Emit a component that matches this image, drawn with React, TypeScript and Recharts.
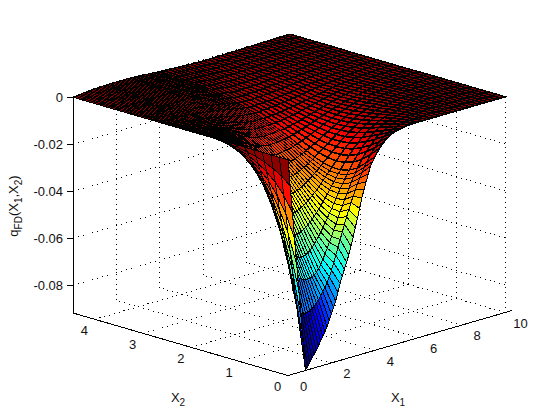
import React from "react"
import { ScatterChart, Scatter, XAxis, YAxis } from "recharts"

const x1Ticks = [0, 2, 4, 6, 8, 10]
const x2Ticks = [0, 1, 2, 3, 4]
const zTicks = [0, -0.02, -0.04, -0.06, -0.08]
const x1Max = 10
const x2Max = 4.45
const zMin = -0.0918
const colorMin = -0.0915
const colorMax = 0.0012

const x1Grid = [
  0, 0.1, 0.2, 0.3, 0.4, 0.5, 0.6, 0.7, 0.8, 0.9, 1, 1.1, 1.2, 1.3, 1.4, 1.5, 1.6, 1.7, 1.8, 1.9,
  2, 2.1, 2.2, 2.3, 2.4, 2.5, 2.6, 2.7, 2.8, 2.9, 3, 3.1, 3.2, 3.3, 3.4, 3.5, 3.6, 3.7, 3.8, 3.9, 4,
  4.2, 4.4, 4.6, 4.8, 5, 5.2, 5.4, 5.6, 5.8, 6, 6.2, 6.4, 6.6, 6.8, 7, 7.2, 7.4, 7.6, 7.8, 8,
  8.2, 8.4, 8.6, 8.8, 9, 9.2, 9.4, 9.6, 9.8, 10,
]
const x2Grid = [
  0, 0.178, 0.356, 0.534, 0.712, 0.89, 1.068, 1.246, 1.424, 1.602, 1.78, 1.958, 2.136, 2.314, 2.492,
  2.67, 2.848, 3.026, 3.204, 3.382, 3.56, 3.738, 3.916, 4.094, 4.272, 4.45,
]

// depth below zero in units of 1e-4, one row per x2Grid value, missing tail cells are flat
const depthRows = [
  [0,114,228,342,456,570,684,798,912,905,890,875,860,845,830,812,795,778,760,735,710,685,660,625,590,562,535,508,480,445,410,372,335,295,255,222,190,160,130,112,95,65,45,28,17,10,6,3,1],
  [0,83,167,250,334,417,500,584,660,680,690,695,695,693,690,684,676,665,655,640,625,610,592,570,545,516,486,455,425,395,365,336,308,281,256,232,209,187,167,148,131,101,77,57,41,30,21,14,10,7,4,3,2,1],
  [0,61,122,183,244,304,365,426,487,510,528,542,552,560,566,570,573,574,573,570,565,556,544,528,509,489,467,445,422,398,375,351,328,305,282,260,239,218,199,181,164,132,105,82,63,47,36,26,18,13,9,6,4,3,2,1],
  [0,44,88,131,175,219,263,306,350,380,408,433,452,466,476,482,488,492,494,494,490,485,476,466,454,441,427,411,395,378,360,343,325,306,288,269,251,233,217,200,184,154,127,103,83,65,51,39,29,22,16,12,8,6,4,3,2,1],
  [0,31,63,94,126,157,188,220,251,275,298,320,342,361,378,392,402,410,413,414,412,410,406,400,394,386,377,368,357,345,333,320,306,293,279,264,250,235,221,207,193,166,142,119,99,81,65,52,41,31,24,18,14,10,7,5,4,3,2,1],
  [0,22,44,66,88,109,131,153,175,194,212,230,248,266,282,297,309,320,329,335,338,339,338,336,334,330,325,319,313,305,297,289,279,270,259,249,238,227,215,204,193,171,149,129,110,92,77,63,51,41,33,25,20,15,11,9,6,5,3,2,2,1],
  [0,15,31,46,62,77,93,108,124,138,152,167,181,195,209,223,235,246,256,264,271,276,278,279,278,277,275,272,269,264,259,254,248,241,234,226,218,210,202,193,184,166,148,131,114,99,84,71,59,49,40,32,26,20,16,12,9,7,5,4,3,2,1],
  [0,11,22,32,43,54,65,75,86,96,107,117,129,140,152,163,174,184,194,203,210,217,222,226,228,229,229,228,226,224,222,218,215,211,206,201,196,190,184,177,171,157,143,129,115,101,88,76,65,55,46,38,31,25,20,16,13,10,8,6,4,3,2,1],
  [0,8,15,23,30,38,45,53,60,67,75,83,92,101,110,119,128,136,145,153,161,167,173,178,182,185,187,188,188,187,186,185,183,180,177,174,171,167,163,159,153,143,133,122,110,99,88,78,68,59,50,42,36,30,24,20,16,13,10,8,6,5,4,3,2,1],
  [0,5,11,16,21,26,32,37,42,47,53,58,65,71,79,86,93,100,107,114,120,126,132,137,142,146,149,151,153,154,154,154,153,152,150,148,146,144,141,138,135,128,120,111,103,94,85,76,68,59,52,45,38,33,27,23,19,15,13,10,8,6,5,4,3,2,1],
  [0,4,7,11,15,18,22,25,29,33,37,41,46,50,55,60,66,72,77,83,89,94,99,104,109,113,117,120,122,124,125,126,126,126,125,125,124,122,120,119,116,112,106,100,94,87,80,73,66,59,52,46,41,35,30,26,22,18,15,12,10,8,6,5,4,3,2,2,1],
  [0,3,5,8,10,13,15,18,20,23,26,29,32,36,40,44,48,52,56,61,65,70,74,78,82,86,90,93,96,98,100,102,103,104,104,104,103,103,102,101,100,97,93,89,84,79,73,68,62,56,51,46,40,36,31,27,23,20,17,14,12,10,8,6,5,4,3,3,2,2,1],
  [0,2,4,5,7,9,11,12,14,16,18,20,23,25,28,31,34,37,41,44,47,51,54,58,62,65,68,71,74,76,78,80,82,83,84,85,85,85,84,84,83,82,79,76,73,70,66,62,57,53,48,44,39,35,31,27,24,21,18,15,13,11,9,7,6,5,4,3,3,2,1],
  [0,1,2,3,5,6,7,8,9,11,12,14,15,17,19,21,24,26,28,31,34,37,40,43,46,48,51,54,56,59,61,63,65,66,68,69,69,70,70,70,70,69,68,66,64,61,58,55,52,48,45,41,37,34,30,27,24,21,18,16,14,12,10,8,7,6,5,4,3,2,1],
  [0,1,2,3,3,4,5,6,7,8,9,10,11,12,13,15,16,18,20,22,24,26,28,30,32,34,36,38,40,42,44,46,48,50,51,53,54,55,56,57,57,57,56,55,53,52,49,47,44,42,39,36,33,30,27,24,22,19,17,15,13,11,10,8,7,6,5,4,3,2,1],
  [0,0,1,1,1,2,2,2,3,3,4,4,5,5,6,7,8,9,10,11,12,13,14,16,17,19,20,22,23,25,27,29,31,33,35,37,39,41,43,44,45,47,47,46,45,44,43,41,39,37,35,32,30,27,25,22,20,18,16,14,12,10,9,8,7,5,4,3,3,2,1],
  [0,0,0,1,1,1,1,1,2,2,2,2,3,3,3,4,4,5,5,6,6,7,8,9,10,10,11,12,14,15,16,18,19,21,23,25,27,29,31,33,35,37,39,39,38,37,36,34,33,31,29,27,25,23,21,19,17,15,13,12,10,9,8,7,6,5,4,3,2,2,1],
  [0,0,0,0,0,0,0,0,0,0,0,0,0,0,0,1,1,1,1,2,2,2,3,3,4,4,5,6,7,8,9,10,12,13,15,17,19,21,23,25,26,29,31,32,32,31,31,30,28,27,25,24,22,20,18,17,15,14,12,11,9,8,7,6,5,4,3,3,2,1,1],
  [0,0,0,0,-1,-1,-1,-1,-1,-1,-1,-1,-1,-1,-1,-1,-1,-1,-1,-1,-1,-1,-1,-1,-1,-1,0,0,1,2,3,4,5,6,8,9,11,13,15,17,18,21,23,25,26,26,25,25,24,23,22,20,19,17,16,15,13,12,11,9,8,7,6,5,4,3,3,2,2,1,1],
  [0,0,-1,-1,-1,-2,-2,-2,-2,-2,-3,-3,-3,-3,-3,-3,-3,-3,-3,-3,-3,-3,-3,-3,-3,-2,-2,-2,-1,-1,0,0,1,2,3,4,5,7,8,10,11,14,16,18,20,21,21,20,20,19,18,17,16,15,13,12,11,10,9,8,7,6,5,4,3,3,2,2,1,1],
  [0,0,-1,-1,-2,-2,-3,-3,-3,-4,-4,-4,-4,-4,-4,-4,-4,-4,-4,-4,-4,-4,-4,-4,-4,-4,-3,-3,-3,-2,-2,-1,-1,0,0,1,2,3,4,5,6,9,11,13,15,17,18,18,17,16,15,15,14,13,12,11,10,9,8,7,6,5,4,4,3,2,2,1,1,1],
  [0,-1,-1,-2,-2,-3,-3,-4,-4,-5,-5,-5,-6,-6,-6,-6,-6,-6,-6,-6,-6,-6,-6,-6,-6,-6,-5,-5,-4,-4,-3,-3,-2,-2,-1,-1,0,0,1,2,3,5,7,9,11,12,13,14,14,13,13,12,11,11,10,9,8,7,7,6,5,4,4,3,2,2,1,1,1],
  [0,-1,-2,-2,-3,-4,-4,-5,-5,-6,-6,-7,-7,-7,-7,-7,-7,-7,-7,-7,-7,-7,-7,-7,-7,-7,-6,-6,-6,-5,-5,-4,-4,-3,-3,-2,-2,-1,0,0,1,3,5,6,8,9,10,11,12,12,11,11,10,9,9,8,7,6,6,5,4,4,3,3,2,2,1,1],
  [0,-1,-2,-3,-4,-5,-5,-6,-6,-7,-7,-8,-8,-8,-9,-9,-9,-9,-9,-9,-9,-9,-9,-9,-9,-8,-8,-8,-7,-7,-7,-6,-6,-5,-4,-4,-3,-2,-1,0,0,2,3,5,6,7,8,9,10,10,9,9,9,8,8,7,6,6,5,4,4,3,3,2,2,1,1],
  [0,-1,-3,-4,-5,-5,-6,-7,-8,-8,-9,-9,-10,-10,-10,-10,-10,-10,-11,-11,-11,-11,-10,-10,-10,-10,-10,-9,-9,-9,-8,-8,-7,-6,-6,-5,-4,-3,-2,-1,-1,1,2,3,4,5,6,7,8,8,8,8,7,7,7,6,5,5,4,4,3,3,2,2,1,1],
  [0,-2,-3,-4,-5,-6,-7,-8,-9,-10,-10,-10,-11,-11,-11,-12,-12,-12,-12,-12,-12,-12,-12,-12,-12,-12,-11,-11,-11,-10,-10,-9,-9,-8,-7,-6,-5,-5,-4,-3,-2,-1,0,1,2,3,4,5,5,6,6,6,6,6,5,5,4,4,4,3,3,3,2,2,1,1],
]

const viewX = (x1: number, x2: number) => 288 + 21.7 * x1 - 48.3 * x2
const viewY = (x1: number, x2: number, z: number) => 159.8 - 6.3 * x1 - 14.05 * x2 - 2350 * z
const at = (x1: number, x2: number, z: number) => ({ x: viewX(x1, x2), y: viewY(x1, x2, z) })

const clip = (v: number) => Math.round(255 * Math.max(0, Math.min(1, v)))
function jet(z: number) {
  const t = (z - colorMin) / (colorMax - colorMin)
  const r = clip(Math.min(4 * t - 1.5, -4 * t + 4.5))
  const g = clip(Math.min(4 * t - 0.5, -4 * t + 3.5))
  const b = clip(Math.min(4 * t + 0.5, -4 * t + 2.5))
  return `rgb(${r},${g},${b})`
}

const zAt = (j: number, i: number) => -(depthRows[j][i] ?? 0) / 10000

const meshPoints = x2Grid.flatMap((x2, j) => x1Grid.map((x1, i) => at(x1, x2, zAt(j, i))))

function Mesh({ points }: any) {
  if (!points) return null
  const nx = x1Grid.length
  const faces = []
  for (let i = nx - 2; i >= 0; i--) {
    for (let j = x2Grid.length - 2; j >= 0; j--) {
      const a = points[j * nx + i]
      const b = points[j * nx + i + 1]
      const c = points[(j + 1) * nx + i + 1]
      const d = points[(j + 1) * nx + i]
      // the grid is coarser past x1 = 4, heavier lines keep the flat part as dark
      faces.push(
        <polygon
          key={`${i}-${j}`}
          points={`${a.x},${a.y} ${b.x},${b.y} ${c.x},${c.y} ${d.x},${d.y}`}
          fill={jet(zAt(j, i))}
          stroke="#000"
          strokeWidth={i >= 40 ? 1.6 : 1}
          shapeRendering="crispEdges"
        />
      )
    }
  }
  return <g>{faces}</g>
}

const dotted = [
  ...x1Ticks.map((t) => [at(t, 0, zMin), at(t, x2Max, zMin)]),
  ...x2Ticks.map((t) => [at(0, t, zMin), at(x1Max, t, zMin)]),
  ...x1Ticks.map((t) => [at(t, x2Max, zMin), at(t, x2Max, 0)]),
  ...x2Ticks.map((t) => [at(x1Max, t, zMin), at(x1Max, t, 0)]),
  ...zTicks.map((t) => [at(0, x2Max, t), at(x1Max, x2Max, t)]),
  ...zTicks.map((t) => [at(x1Max, 0, t), at(x1Max, x2Max, t)]),
]

const solid = [
  [at(0, 0, zMin), at(x1Max, 0, zMin)],
  [at(0, 0, zMin), at(0, x2Max, zMin)],
  [at(0, x2Max, zMin), at(0, x2Max, 0)],
  ...x1Ticks.map((t) => [at(t, 0, zMin), at(t + 0.33, 0, zMin)]),
  ...x2Ticks.map((t) => [at(0, t, zMin), at(0, t + 0.12, zMin)]),
  ...zTicks.map((t) => {
    const p = at(0, x2Max, t)
    return [{ x: p.x - 6, y: p.y }, p]
  }),
]

const tickLabels = [
  ...x1Ticks.map((t) => {
    const p = at(t, 0, zMin)
    return { x: p.x + 15.5, y: p.y + 10.5, text: String(t), anchor: "middle" }
  }),
  ...x2Ticks.map((t) => {
    const p = at(0, t, zMin)
    return { x: p.x - 10.5, y: p.y + 10.5, text: String(t), anchor: "middle" }
  }),
  ...zTicks.map((t) => {
    const p = at(0, x2Max, t)
    return { x: p.x - 10, y: p.y, text: String(t), anchor: "end" }
  }),
]

const fontFamily = "'Liberation Sans', Arial, sans-serif"

function TickLabel({ cx, cy, payload }: any) {
  return (
    <text x={cx} y={cy} dy="0.36em" textAnchor={payload.anchor} fontSize={13} fontFamily={fontFamily} fill="#111">
      {payload.text}
    </text>
  )
}

function Title({ cx, cy, payload }: any) {
  const rotate = payload.rotate ? `rotate(-90 ${cx} ${cy})` : undefined
  return (
    <text x={cx} y={cy} transform={rotate} textAnchor="middle" fontSize={13} fontFamily={fontFamily} fill="#111">
      {payload.parts.map((p: string, i: number) => (
        <tspan key={i} dy={i === 0 ? 0 : i % 2 ? 4 : -4} fontSize={i % 2 ? 10 : 13}>
          {p}
        </tspan>
      ))}
    </text>
  )
}

const titles = [
  { x: 398, y: 402, parts: ["X", "1"] },
  { x: 178, y: 402, parts: ["X", "2"] },
  { x: 18, y: 206, parts: ["q", "FD", "(X", "1", ",X", "2", ")"], rotate: true },
]

const none = () => null

export default function App() {
  return (
    <div style={{ position: "absolute", left: 0, top: 0, width: 560, height: 420, background: "#fff" }}>
      <ScatterChart width={560} height={420} margin={{ top: 0, right: 0, bottom: 0, left: 0 }}>
        <XAxis type="number" dataKey="x" domain={[0, 560]} hide />
        <YAxis type="number" dataKey="y" domain={[0, 420]} reversed hide />
        {dotted.map((seg, i) => (
          <Scatter
            key={`d${i}`}
            data={seg}
            line={{ stroke: "#000", strokeWidth: 1, strokeDasharray: "1 4", shapeRendering: "crispEdges" }}
            shape={none}
            isAnimationActive={false}
          />
        ))}
        {solid.map((seg, i) => (
          <Scatter
            key={`s${i}`}
            data={seg}
            line={{ stroke: "#000", strokeWidth: 1, shapeRendering: "crispEdges" }}
            shape={none}
            isAnimationActive={false}
          />
        ))}
        <Scatter data={meshPoints} line={<Mesh />} shape={none} isAnimationActive={false} />
        <Scatter data={tickLabels} shape={<TickLabel />} isAnimationActive={false} />
        <Scatter data={titles} shape={<Title />} isAnimationActive={false} />
      </ScatterChart>
    </div>
  )
}
